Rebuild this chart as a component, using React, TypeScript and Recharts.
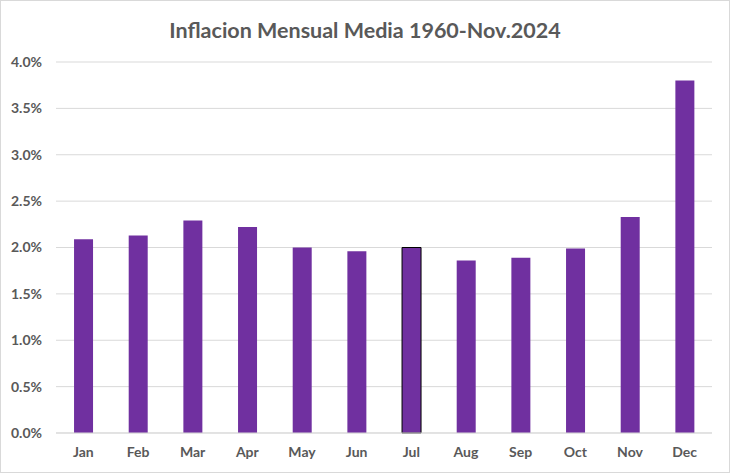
import { BarChart, Bar, XAxis, YAxis, CartesianGrid, Cell } from "recharts";

const months = ["Jan", "Feb", "Mar", "Apr", "May", "Jun", "Jul", "Aug", "Sep", "Oct", "Nov", "Dec"];
const inflation = [2.09, 2.13, 2.29, 2.22, 2.0, 1.96, 2.0, 1.86, 1.89, 1.99, 2.33, 3.8];
const yTicks = [0, 0.5, 1, 1.5, 2, 2.5, 3, 3.5, 4];

const data = months.map((m, i) => ({ month: m, value: inflation[i] }));

const font = "Lato, 'Open Sans', sans-serif";
const tickStyle = { fill: "#595959", fontSize: 14, fontFamily: font, fontWeight: 700 };

export default function App() {
  return (
    <div
      style={{
        position: "absolute",
        left: 0,
        top: 0,
        width: 730,
        height: 473,
        boxSizing: "border-box",
        border: "1px solid #d9d9d9",
        background: "#fff",
        fontFamily: font,
      }}
    >
      <div
        style={{
          position: "absolute",
          top: 16,
          left: 0,
          width: "100%",
          textAlign: "center",
          fontSize: 21.5,
          fontWeight: 700,
          color: "#595959",
        }}
      >
        Inflacion Mensual Media 1960-Nov.2024
      </div>
      <div style={{ position: "absolute", left: -1, top: -1 }}>
        <BarChart
          width={730}
          height={473}
          data={data}
          margin={{ top: 62, right: 18, bottom: 0, left: 0 }}
          barCategoryGap="33%"
        >
          <CartesianGrid vertical={false} stroke="#d9d9d9" />
          <XAxis
            dataKey="month"
            height={40}
            axisLine={{ stroke: "#d9d9d9" }}
            tickLine={false}
            tickSize={0}
            tickMargin={14}
            tick={tickStyle}
          />
          <YAxis
            width={56}
            domain={[0, 4]}
            ticks={yTicks}
            axisLine={false}
            tickLine={false}
            tickSize={0}
            tickMargin={14}
            tick={tickStyle}
            tickFormatter={(v: number) => v.toFixed(1) + "%"}
          />
          <Bar dataKey="value" fill="#7030A0" isAnimationActive={false}>
            {data.map((d) => (
              <Cell
                key={d.month}
                stroke={d.month === "Jul" ? "#000" : "none"}
                strokeWidth={d.month === "Jul" ? 1 : 0}
              />
            ))}
          </Bar>
        </BarChart>
      </div>
    </div>
  );
}
